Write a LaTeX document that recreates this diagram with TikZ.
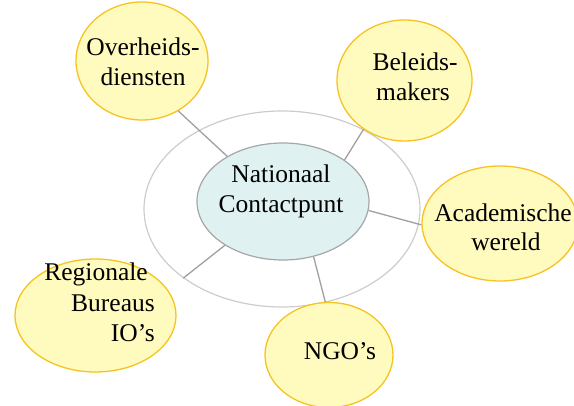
\documentclass[tikz,border=0pt]{standalone}
\usepackage{fontspec}
\setmainfont{Liberation Serif}
\usetikzlibrary{shapes.geometric}
\definecolor{yfill}{RGB}{255,250,190}
\definecolor{ydraw}{RGB}{246,196,34}
\definecolor{cfill}{RGB}{223,241,241}
\definecolor{cdraw}{RGB}{166,166,166}
\definecolor{ring}{RGB}{204,204,204}
\definecolor{conn}{RGB}{160,160,160}
\tikzset{
  bubble/.style={ellipse, draw=ydraw, fill=yfill, line width=1.3pt, inner sep=0pt},
  hub/.style={ellipse, draw=cdraw, fill=cfill, line width=1.2pt, inner sep=0pt},
  lbl/.style={font=\fontsize{25.5}{31}\selectfont, inner sep=0pt, anchor=base},
  link/.style={draw=conn, line width=1.3pt}
}
\begin{document}
\begin{tikzpicture}[x=1pt,y=1pt]
\useasboundingbox (0,0) rectangle (574,406);
% outer ring
\node[ellipse, draw=ring, line width=1.2pt, minimum width=276pt, minimum height=196pt, inner sep=0pt] (ring) at (282,197) {};
% hub
\node[hub, minimum width=172pt, minimum height=117pt] (c) at (283,204.5) {};
% satellites
\node[bubble, minimum width=132pt, minimum height=118pt] (o) at (142,345) {};
\node[bubble, minimum width=135pt, minimum height=121pt] (b) at (404.5,325.5) {};
\node[bubble, minimum width=156pt, minimum height=115pt] (a) at (500,182.5) {};
\node[bubble, minimum width=161pt, minimum height=113pt] (r) at (95.5,90.5) {};
\node[bubble, minimum width=128pt, minimum height=105pt] (n) at (329,51) {};
% connectors
\draw[link] (c.141) -- (o.306);
\draw[link] (c.34) -- (b.230);
\draw[link] (c.-6) -- (a.181);
\draw[link] (c.217) -- (ring.215);
\draw[link] (c.299) -- (n.94);
% texts
\node[lbl] (t1) at (281,223) {Nationaal};
\node[lbl] (t2) at (281,193) {Contactpunt};
\node[lbl] (t3) at (143,350) {Overheids-};
\node[lbl] (t4) at (143,320) {diensten};
\node[lbl] (t5) at (415,335) {Beleids-};
\node[lbl] (t6) at (413,305) {makers};
\node[lbl] (t7) at (503,184) {Academische};
\node[lbl] (t8) at (506,155) {wereld};
\node[lbl, anchor=base east] (t9) at (148,125) {Regionale};
\node[lbl, anchor=base east] (t10) at (155,94) {Bureaus};
\node[lbl, anchor=base east] (t11) at (155,64) {IO’s};
\node[lbl] (t12) at (340,46) {NGO’s};
\end{tikzpicture}
\end{document}
